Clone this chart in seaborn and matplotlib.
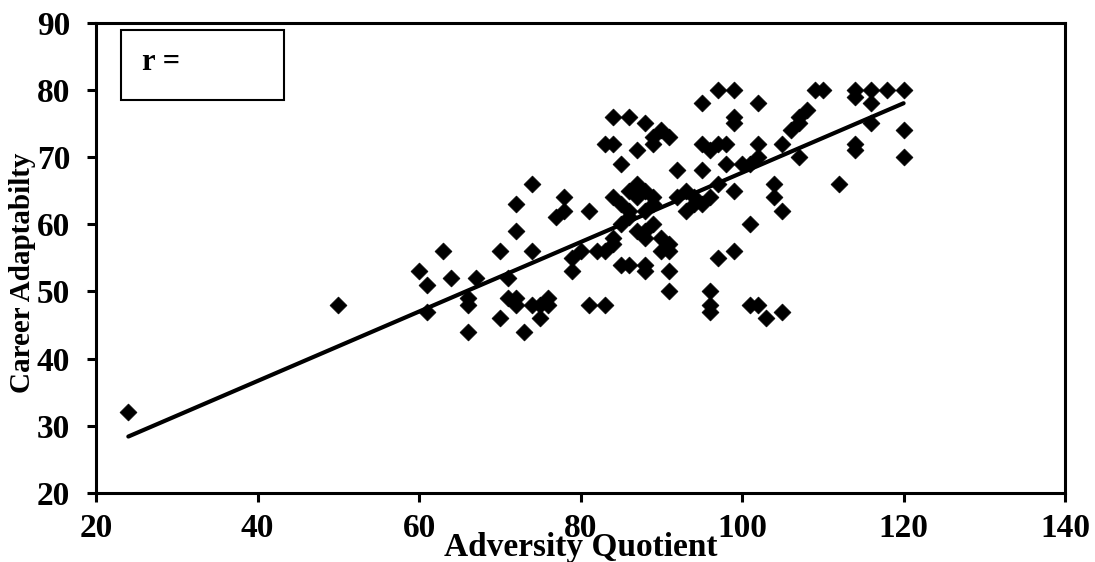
import matplotlib
matplotlib.use("Agg")
import matplotlib.pyplot as plt
import seaborn as sns
import pandas as pd
from matplotlib.patches import Rectangle

adversity_quotient = [
    24, 50, 60, 61, 61, 63, 64, 66, 66, 66, 67, 70, 70, 71, 71,
    72, 72, 72, 72, 73, 74, 74, 74, 75, 75, 76, 76, 77, 78, 78,
    79, 79, 80, 81, 81, 82, 83, 83, 83, 84, 84, 84, 84, 84,
    85, 85, 85, 85, 86, 86, 86, 86, 86, 87, 87, 87, 87,
    88, 88, 88, 88, 88, 88, 88, 89, 89, 89, 89, 89, 90, 90, 90,
    91, 91, 91, 91, 91, 92, 92, 93, 93, 94, 94, 95, 95, 95, 95,
    96, 96, 96, 96, 96, 97, 97, 97, 97, 98, 98, 99, 99, 99, 99, 99,
    100, 101, 101, 101, 102, 102, 102, 102, 103, 104, 104,
    105, 105, 105, 106, 107, 107, 107, 108, 109, 110, 112,
    114, 114, 114, 114, 116, 116, 116, 118, 120, 120, 120,
]
career_adaptability = [
    32, 48, 53, 51, 47, 56, 52, 49, 48, 44, 52, 56, 46, 52, 49,
    63, 59, 49, 48, 44, 66, 56, 48, 48, 46, 49, 48, 61, 64, 62,
    55, 53, 56, 62, 48, 56, 72, 56, 48, 76, 72, 64, 58, 57,
    69, 63, 60, 54, 76, 65, 62, 61, 54, 71, 66, 64, 59,
    75, 65, 62, 59, 58, 54, 53, 73, 72, 64, 60, 63, 74, 58, 56,
    73, 57, 56, 53, 50, 68, 64, 65, 62, 64, 63, 78, 72, 68, 63,
    71, 64, 50, 48, 47, 80, 72, 66, 55, 72, 69, 80, 76, 75, 65, 56,
    69, 69, 60, 48, 78, 72, 70, 48, 46, 66, 64,
    72, 62, 47, 74, 76, 75, 70, 77, 80, 80, 66,
    80, 79, 72, 71, 80, 78, 75, 80, 80, 74, 70,
]

# linear trend line endpoints
trend_x = [24, 120]
trend_y = [28.4, 78.0]

x_ticks = [20, 40, 60, 80, 100, 120, 140]
y_ticks = [20, 30, 40, 50, 60, 70, 80, 90]

df = pd.DataFrame({"Adversity Quotient": adversity_quotient,
                   "Career Adaptabilty": career_adaptability})
trend = pd.DataFrame({"x": trend_x, "y": trend_y})

sns.set_style("white")
plt.rcParams["font.family"] = ["Liberation Serif", "DejaVu Serif"]
plt.rcParams["font.weight"] = "bold"
for k in ["text.color", "axes.labelcolor", "xtick.color", "ytick.color"]:
    plt.rcParams[k] = "black"

fig = plt.figure(figsize=(10.95, 5.62), dpi=100)
ax = fig.add_axes([0.0877, 0.1228, 0.885, 0.837])

sns.scatterplot(data=df, x="Adversity Quotient", y="Career Adaptabilty", ax=ax,
                marker="D", color="black", s=74, edgecolor="black",
                linewidth=0.5, zorder=3)
sns.lineplot(data=trend, x="x", y="y", ax=ax, color="black", linewidth=3,
             solid_capstyle="round", zorder=4)

ax.set_xlim(20, 140)
ax.set_ylim(20, 90)
ax.set_xticks(x_ticks)
ax.set_yticks(y_ticks)
ax.set_xticklabels([str(v) for v in x_ticks], fontsize=24, fontweight="bold")
ax.set_yticklabels([str(v) for v in y_ticks], fontsize=24, fontweight="bold")
ax.tick_params(axis="both", direction="out", length=6.5, width=2.2,
               bottom=True, left=True, colors="black")
ax.tick_params(axis="y", pad=12)
ax.tick_params(axis="x", pad=8)

for s in ax.spines.values():
    s.set_linewidth(2.2)
    s.set_color("black")
    s.set_visible(True)

ax.set_xlabel("Adversity Quotient", fontsize=24, fontweight="bold", labelpad=-9)
ax.set_ylabel("Career Adaptabilty", fontsize=21, fontweight="bold")
ax.yaxis.set_label_coords(-0.062, 0.468)

ax.add_patch(Rectangle((0.0258, 0.8356), 0.168, 0.149, transform=ax.transAxes,
                       fill=False, edgecolor="black", linewidth=1.5, zorder=5))
ax.text(0.047, 0.916, "r =", transform=ax.transAxes, fontsize=22,
        fontweight="bold", va="center", ha="left", color="black")

fig.savefig("out.png", dpi=100)
